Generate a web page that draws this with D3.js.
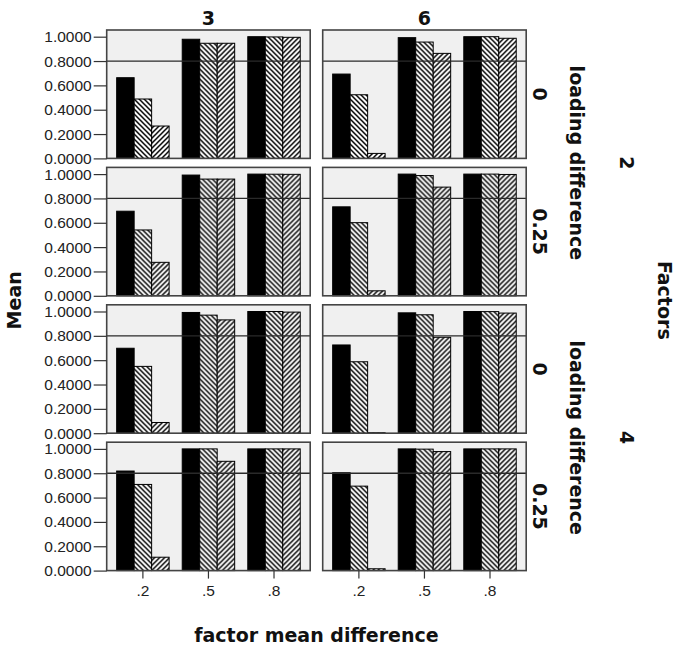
<!DOCTYPE html>
<html>
<head>
<meta charset="utf-8">
<script src="https://cdn.jsdelivr.net/npm/d3@7"></script>
<style>
  body { margin: 0; background: #fff; }
  svg { display: block; }
  .tick text { font-family: "Liberation Sans", Arial, sans-serif; font-size: 15.5px; fill: #222; }
  .tick line { stroke: #333; stroke-width: 1.2; }
  .lbl { font-family: "DejaVu Sans", Verdana, sans-serif; font-weight: bold; font-size: 19px; fill: #111; }
</style>
</head>
<body>
<svg id="chart" width="677" height="647"></svg>
<script>
// ---- data -------------------------------------------------------------
const columnLabels = ["3", "6"];
const factorLevels = ["2", "4"];
const loadingLevels = ["0", "0.25"];
const categories = [".2", ".5", ".8"];
const seriesKeys = ["solid", "backHatch", "fwdHatch"];
const yTickValues = [0, 0.2, 0.4, 0.6, 0.8, 1.0];
const referenceValue = 0.8;

// mean for each category (rows) and series (columns), one array per panel
const f2_ld0_c3   = [[0.663, 0.488, 0.266], [0.979, 0.946, 0.946], [1.000, 0.998, 0.995]];
const f2_ld0_c6   = [[0.693, 0.523, 0.041], [0.992, 0.956, 0.863], [1.000, 1.000, 0.987]];
const f2_ld25_c3  = [[0.695, 0.541, 0.275], [0.992, 0.959, 0.959], [1.000, 0.999, 0.998]];
const f2_ld25_c6  = [[0.731, 0.601, 0.041], [1.000, 0.988, 0.893], [1.000, 1.000, 0.997]];
const f4_ld0_c3   = [[0.698, 0.549, 0.088], [0.992, 0.970, 0.931], [1.000, 1.000, 0.995]];
const f4_ld0_c6   = [[0.725, 0.587, 0.004], [0.989, 0.973, 0.788], [1.000, 0.999, 0.987]];
const f4_ld25_c3  = [[0.818, 0.708, 0.110], [1.000, 1.000, 0.898], [1.000, 1.000, 1.000]];
const f4_ld25_c6  = [[0.804, 0.694, 0.015], [1.000, 0.998, 0.978], [1.000, 1.000, 1.000]];

const panelRows = [
  { factor: "2", loading: "0",    values: [f2_ld0_c3,  f2_ld0_c6]  },
  { factor: "2", loading: "0.25", values: [f2_ld25_c3, f2_ld25_c6] },
  { factor: "4", loading: "0",    values: [f4_ld0_c3,  f4_ld0_c6]  },
  { factor: "4", loading: "0.25", values: [f4_ld25_c3, f4_ld25_c6] }
];

// ---- layout -----------------------------------------------------------
const gridLeft = 106.7, gridTop = 30;
const panelW = 203.5, colStep = 216;
const panelH = 128.4, rowStep = 137.4;

const svg = d3.select("#chart");
const defs = svg.append("defs");

// diagonal hatch tiles, 5px repeat
function hatch(id, d) {
  const p = defs.append("pattern")
    .attr("id", id)
    .attr("patternUnits", "userSpaceOnUse")
    .attr("width", 5).attr("height", 5);
  p.append("rect").attr("width", 5).attr("height", 5).attr("fill", "#fff");
  p.append("path").attr("d", d).attr("stroke", "#000").attr("stroke-width", 1.5).attr("fill", "none");
}
hatch("backHatch", "M-1,-1 L6,6 M-1,4 L1,6 M4,-1 L6,1");
hatch("fwdHatch", "M-1,6 L6,-1 M-1,1 L1,-1 M4,6 L6,4");

const fills = { solid: "#000", backHatch: "url(#backHatch)", fwdHatch: "url(#fwdHatch)" };

const x = d3.scaleBand().domain(categories).range([0, panelW]).paddingInner(0).paddingOuter(0.052);
const xs = d3.scaleBand().domain(seriesKeys).range([0, x.bandwidth()]).paddingInner(0).paddingOuter(0.375);
const y = d3.scaleLinear().domain([0, 1.055]).range([panelH, 0]);

panelRows.forEach((row, ri) => {
  columnLabels.forEach((col, ci) => {
    const g = svg.append("g")
      .attr("transform", `translate(${gridLeft + ci * colStep},${gridTop + ri * rowStep})`);

    g.append("rect").attr("width", panelW).attr("height", panelH).attr("fill", "#f0f0f0");

    const vals = row.values[ci];
    categories.forEach((cat, k) => {
      const grp = g.append("g").attr("transform", `translate(${x(cat)},0)`);
      grp.selectAll("rect")
        .data(seriesKeys.map((s, j) => ({ s, v: vals[k][j] })))
        .join("rect")
        .attr("x", d => xs(d.s))
        .attr("width", xs.bandwidth())
        .attr("y", d => y(d.v))
        .attr("height", d => panelH - y(d.v))
        .attr("fill", d => fills[d.s])
        .attr("stroke", "#000")
        .attr("stroke-width", 1);
    });

    g.append("line")
      .attr("x1", 0).attr("x2", panelW)
      .attr("y1", y(referenceValue)).attr("y2", y(referenceValue))
      .attr("stroke", "#2a2a2a").attr("stroke-width", 1.3);

    g.append("rect").attr("width", panelW).attr("height", panelH)
      .attr("fill", "none").attr("stroke", "#444").attr("stroke-width", 1.6);

    if (ci === 0) {
      const ax = g.append("g").call(
        d3.axisLeft(y).tickValues(yTickValues).tickFormat(d3.format(".4f"))
          .tickSize(13).tickPadding(2).tickSizeOuter(0));
      ax.select(".domain").remove();
    }
    if (ri === panelRows.length - 1) {
      const ax = g.append("g").attr("transform", `translate(0,${panelH})`).call(
        d3.axisBottom(x).tickSize(8).tickPadding(6).tickSizeOuter(0));
      ax.select(".domain").remove();
    }

    if (ri === 0) {
      svg.append("text").attr("class", "lbl")
        .attr("x", gridLeft + ci * colStep + panelW / 2).attr("y", 25)
        .attr("text-anchor", "middle").text(col);
    }
  });

  // loading difference level for this row
  const cy = gridTop + ri * rowStep + panelH / 2;
  svg.append("text").attr("class", "lbl")
    .attr("transform", `translate(540,${cy}) rotate(90)`)
    .attr("text-anchor", "middle").attr("dominant-baseline", "central")
    .text(row.loading);
});

// grouped strip labels: loading difference + factor count
factorLevels.forEach((f, fi) => {
  const top = gridTop + (fi * 2) * rowStep;
  const bottom = gridTop + (fi * 2 + 1) * rowStep + panelH;
  const cy = (top + bottom) / 2;
  svg.append("text").attr("class", "lbl")
    .attr("transform", `translate(577,${cy}) rotate(90)`)
    .attr("text-anchor", "middle").attr("dominant-baseline", "central")
    .text("loading difference");
  svg.append("text").attr("class", "lbl")
    .attr("transform", `translate(627,${cy}) rotate(90)`)
    .attr("text-anchor", "middle").attr("dominant-baseline", "central")
    .text(f);
});

const gridMidY = (gridTop + gridTop + 3 * rowStep + panelH) / 2;
svg.append("text").attr("class", "lbl")
  .attr("transform", `translate(665,${gridMidY}) rotate(90)`)
  .attr("text-anchor", "middle").attr("dominant-baseline", "central")
  .text("Factors");

svg.append("text").attr("class", "lbl")
  .attr("transform", `translate(14,${gridMidY}) rotate(-90)`)
  .attr("text-anchor", "middle").attr("dominant-baseline", "central")
  .text("Mean");

svg.append("text").attr("class", "lbl")
  .attr("x", gridLeft + (colStep + panelW) / 2).attr("y", 642)
  .attr("text-anchor", "middle")
  .text("factor mean difference");
</script>
</body>
</html>
